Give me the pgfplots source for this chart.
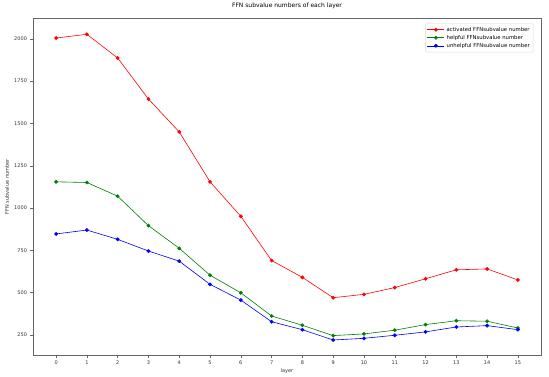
\documentclass[border=0pt]{standalone}
\usepackage{pgfplots}
\pgfplotsset{compat=1.18}
\usepackage{fontspec}
\setmainfont{DejaVu Sans}
\definecolor{mplgreen}{rgb}{0,0.5,0}
\begin{document}
\begin{tikzpicture}
\begin{axis}[
    width=508pt, height=337pt,
    scale only axis,
    xmin=-0.75, xmax=15.75,
    ymin=130, ymax=2122,
    xtick={0,...,15},
    ytick={250,500,...,2000},
    tick align=outside,
    tick pos=left,
    major tick length=2.5pt,
    axis line style={gray!80!black, line width=0.5pt},
    tick style={gray!80!black, line width=0.4pt},
    tick label style={font=\fontsize{5}{6}\selectfont, text=black!80},
    /pgf/number format/assume math mode=true,
    /pgf/number format/1000 sep={},
    title={FFN subvalue numbers of each layer},
    title style={font=\fontsize{6}{7}\selectfont, at={(axis description cs:0.5,1)},
        anchor=center, yshift=6pt},
    xlabel={layer},
    ylabel={FFN subvalue number},
    every axis x label/.style={at={(axis description cs:0.5,0)}, anchor=center,
        yshift=-16pt, font=\fontsize{5}{6}\selectfont, text=black!80},
    every axis y label/.style={at={(axis description cs:0,0.5)}, anchor=center,
        xshift=-26pt, rotate=90, font=\fontsize{5}{6}\selectfont, text=black!80},
    legend style={
        at={(0.985,0.985)}, anchor=north east,
        font=\fontsize{5.3}{6}\selectfont,
        draw=gray!30, rounded corners=1pt,
        row sep=-1.5pt, inner sep=1.5pt,
    },
    legend cell align=left,
    every axis plot/.append style={line width=0.6pt, mark=*, mark size=1.6pt},
]
\addplot[red, mark options={fill=red}] coordinates {
    (0,2005) (1,2027) (2,1887) (3,1644) (4,1450) (5,1155) (6,951) (7,690)
    (8,590) (9,470) (10,490) (11,530) (12,582) (13,635) (14,640) (15,575)
};
\addlegendentry{activated FFNsubvalue number}
\addplot[mplgreen, mark options={fill=mplgreen}] coordinates {
    (0,1155) (1,1151) (2,1070) (3,896) (4,762) (5,603) (6,499) (7,362)
    (8,307) (9,246) (10,256) (11,278) (12,311) (13,334) (14,331) (15,291)
};
\addlegendentry{helpful FFNsubvalue number}
\addplot[blue, mark options={fill=blue}] coordinates {
    (0,847) (1,870) (2,815) (3,746) (4,686) (5,549) (6,456) (7,328)
    (8,281) (9,220) (10,230) (11,248) (12,268) (13,297) (14,305) (15,281)
};
\addlegendentry{unhelpful FFNsubvalue number}
\end{axis}
\path ([xshift=-33pt,yshift=-21pt]current axis.south west)
      ([xshift=8pt,yshift=16pt]current axis.north east);
\end{tikzpicture}
\end{document}
